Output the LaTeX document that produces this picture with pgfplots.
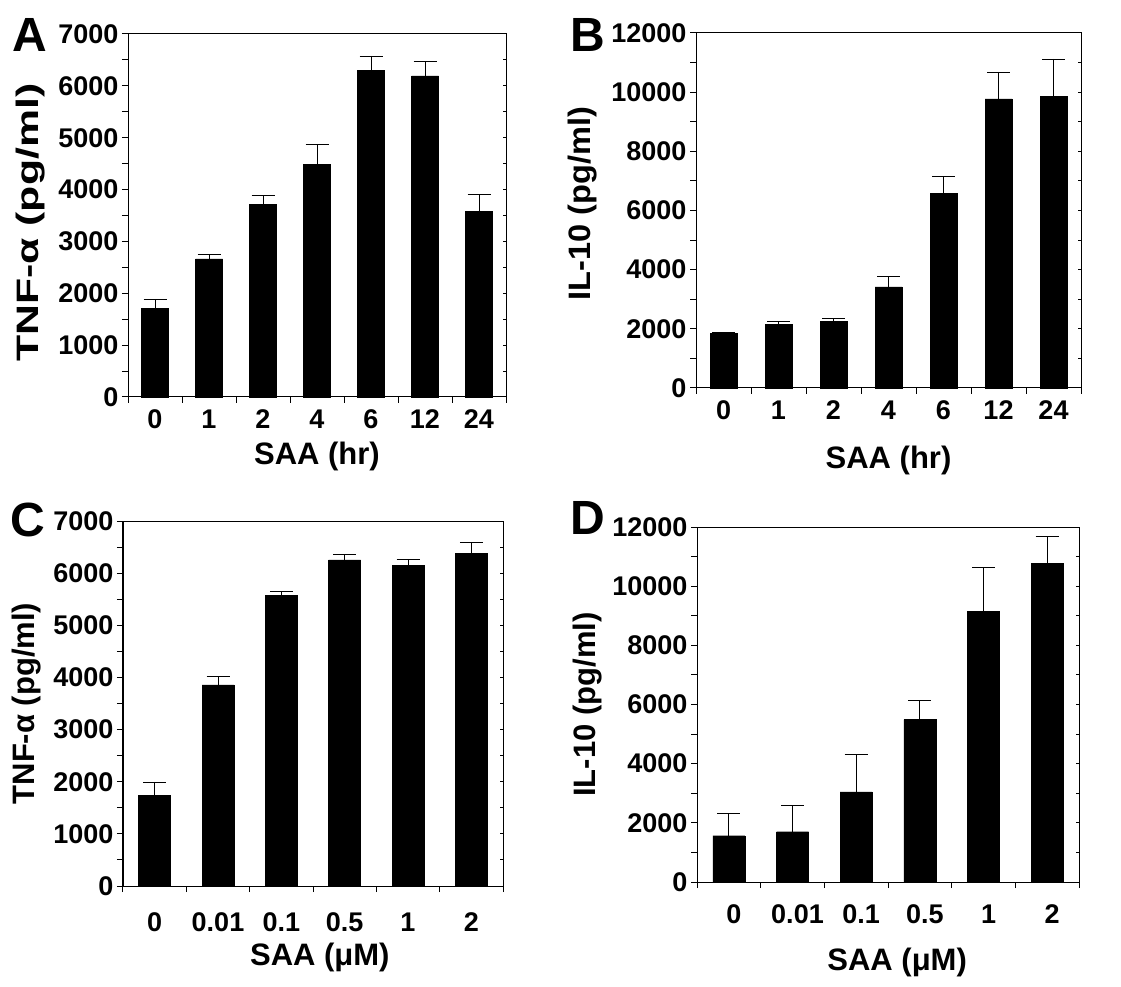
\documentclass[border=0pt]{standalone}
\usepackage{fontspec}
\setmainfont{Liberation Sans}
\usepackage{pgfplots}
\pgfplotsset{compat=1.18}

% 1 pt here = 1 px of the reference
\pgfplotsset{
  base/.style={scale only axis, ymin=0, xmin=-0.5, anchor=south west,
    axis line style={line width=1pt}, tick style={line width=1pt, black},
    scaled y ticks=false,
    /pgf/number format/assume math mode=true,
    /pgf/number format/1000 sep={},
    ticklabel style={font=\fontsize{27}{27}\selectfont\bfseries},
    label style={font=\fontsize{31}{31}\selectfont\bfseries, anchor=center},
    clip=false},
  front/.style={base, xtick pos=left, ytick pos=left, tick align=outside,
    major tick length=6pt, minor tick length=6pt,
    major x tick style={draw=none},
    ybar, bar width=#1,
    yticklabel style={anchor=east, xshift=0pt},
    xticklabel style={anchor=base, yshift=-26pt},
    error bars/error bar style={line width=0.8pt, black},
    error bars/error mark options={line width=0.8pt, black, mark size=11.5pt, rotate=90}},
  back/.style={base, xtick pos=right, ytick pos=right, tick align=inside,
    major tick length=3pt, minor tick length=3pt,
    xtick=\empty, yticklabels={}, xticklabels={}},
  barplot/.style={fill=black, draw=black, error bars/.cd, y dir=plus, y explicit},
}
\tikzset{letter/.style={font=\fontsize{48}{48}\selectfont\bfseries, anchor=center}}

\pgfplotstableread{
x y e
0 1715 160
1 2665 90
2 3719 167
3 4490 372
4 6294 283
5 6191 283
6 3584 327
}\tnftime
\pgfplotstableread{
x y e
0 1837 45
1 2141 113
2 2242 113
3 3414 361
4 6580 586
5 9769 913
6 9859 1262
}\iltime
\pgfplotstableread{
x y e
0 1745 250
1 3855 167
2 5575 77
3 6253 109
4 6151 109
5 6381 205
}\tnfdose
\pgfplotstableread{
x y e
0 1564 764
1 1699 899
2 3048 1271
3 5489 653
4 9145 1474
5 10776 900
}\ildose

\begin{document}
\begin{tikzpicture}
\path (0,0) rectangle (1121pt,986pt);

% A
\begin{axis}[front=27pt, at={(128pt,589pt)}, width=378pt, height=363pt,
  xmax=6.5, ymax=7000, ytick={0,1000,...,7000}, minor y tick num=1,
  xtick={0,...,6}, xticklabels={0,1,2,4,6,12,24}, minor xtick={-0.5,0.5,...,6.5},
  xlabel={SAA (hr)}, ylabel={TNF-α (pg/ml)},
  xlabel style={at={(axis description cs:0.5,-0.165)}},
  ylabel style={at={(axis description cs:-0.259,0.48)}, xscale=1.38}]
\addplot[barplot] table[x=x, y=y, y error=e] {\tnftime};
\end{axis}
\begin{axis}[back, at={(128pt,589pt)}, width=378pt, height=363pt,
  xmax=6.5, ymax=7000, ytick={0,500,...,7000}, minor xtick={-0.5,0.5,...,6.5}]
\end{axis}

% B
\begin{axis}[front=27pt, at={(696pt,598pt)}, width=385pt, height=355pt,
  xmax=6.5, ymax=12000, ytick={0,2000,...,12000}, minor y tick num=1,
  xtick={0,...,6}, xticklabels={0,1,2,4,6,12,24}, minor xtick={-0.5,0.5,...,6.5},
  xlabel={SAA (hr)}, ylabel={IL-10 (pg/ml)},
  xlabel style={at={(axis description cs:0.5,-0.203)}},
  ylabel style={at={(axis description cs:-0.2935,0.52)}, xscale=1.05}]
\addplot[barplot] table[x=x, y=y, y error=e] {\iltime};
\end{axis}
\begin{axis}[back, at={(696pt,598pt)}, width=385pt, height=355pt,
  xmax=6.5, ymax=12000, ytick={0,1000,...,12000}, minor xtick={-0.5,0.5,...,6.5}]
\end{axis}

% C
\begin{axis}[front=32pt, at={(123pt,100pt)}, width=380pt, height=365pt,
  xmax=5.5, ymax=7000, ytick={0,1000,...,7000}, minor y tick num=1,
  xtick={0,...,5}, xticklabels={0,0.01,0.1,0.5,1,2}, minor xtick={-0.5,0.5,...,5.5},
  xticklabel style={yshift=-13pt},
  xlabel={SAA (μM)}, ylabel={TNF-α (pg/ml)},
  xlabel style={at={(axis description cs:0.518,-0.197)}},
  ylabel style={at={(axis description cs:-0.2526,0.5)}}]
\addplot[barplot] table[x=x, y=y, y error=e] {\tnfdose};
\end{axis}
\begin{axis}[back, at={(123pt,100pt)}, width=380pt, height=365pt,
  xmax=5.5, ymax=7000, ytick={0,500,...,7000}, minor xtick={-0.5,0.5,...,5.5}]
\end{axis}

% D
\begin{axis}[front=32pt, at={(697pt,104pt)}, width=382pt, height=355pt,
  xmax=5.5, ymax=12000, ytick={0,2000,...,12000}, minor y tick num=1,
  xtick={0,...,5}, xticklabels={0,0.01,0.1,0.5,1,2}, minor xtick={-0.5,0.5,...,5.5},
  xticklabel style={yshift=-9pt, xshift=5pt},
  xlabel={SAA (μM)}, ylabel={IL-10 (pg/ml)},
  xlabel style={at={(axis description cs:0.524,-0.228)}},
  ylabel style={at={(axis description cs:-0.2853,0.5)}}]
\addplot[barplot] table[x=x, y=y, y error=e] {\ildose};
\end{axis}
\begin{axis}[back, at={(697pt,104pt)}, width=382pt, height=355pt,
  xmax=5.5, ymax=12000, ytick={0,1000,...,12000}, minor xtick={-0.5,0.5,...,5.5}]
\end{axis}

\node[letter] at (30pt,951pt) {A};
\node[letter] at (588pt,951pt) {B};
\node[letter] at (28pt,466pt) {C};
\node[letter] at (588pt,468pt) {D};
\end{tikzpicture}
\end{document}
